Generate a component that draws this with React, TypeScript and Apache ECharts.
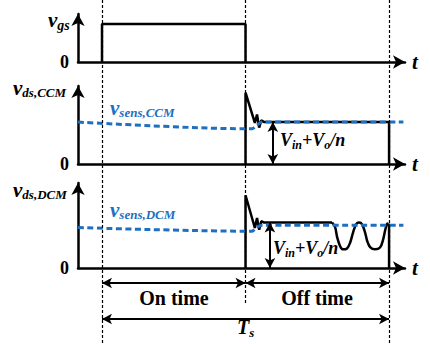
import React, { useEffect, useRef } from "react";
import * as echarts from "echarts";

// time axis, in units of the on-time (turn-on at 0, turn-off at 1, period end at 2)
const T_MIN = -0.1672;
const T_MAX = 2.111;
const SWITCH_T = [0, 1, 2];
const Y_MAX = [1.26, 1.86, 1.87];

// gate drive
const VGS = [[0, 0], [0, 1], [1, 1], [1, 0]];

// drain-source voltage, CCM
const VDS_CCM = [[1, 0], [1, 1.7], [1.065, 0.98], [1.08, 1.18], [1.095, 0.87], [1.11, 1.04], [1.13, 1.0], [2, 1.0], [2, 0]];
const VSENS_CCM = [[T_MIN, 1.0], [1.0, 0.84], [1.045, 0.84], [1.08, 0.93], [1.115, 1.0], [2.1, 1.0]];

// drain-source voltage, DCM
const VDS_DCM = [[1, 0], [1, 1.6], [1.065, 0.88], [1.08, 1.1], [1.095, 0.84], [1.11, 1.03], [1.13, 1.0], [1.603, 1.0]];
const VDS_DCM_RING = [
  [1.603, 1.0], [1.624, 0.9], [1.638, 0.68], [1.659, 0.48], [1.679, 0.41], [1.707, 0.43], [1.728, 0.55],
  [1.749, 0.78], [1.77, 0.96], [1.791, 1.0], [1.812, 0.96], [1.833, 0.78], [1.847, 0.6], [1.868, 0.46],
  [1.902, 0.41], [1.937, 0.45], [1.958, 0.62], [1.972, 0.82], [1.986, 0.97], [1.995, 0.98],
];
const VDS_DCM_END = [[1.995, 0.98], [2.0, 0.92], [2.0, 0]];
const VSENS_DCM = [[T_MIN, 0.89], [1.0, 0.81], [1.045, 0.81], [1.08, 0.9], [1.115, 0.94], [2.1, 0.94]];

// reflected-voltage arrows (time, level)
const REFLECT_ARROW_CCM = [1.19, 1.0];
const REFLECT_ARROW_DCM = [1.17, 1.0];

// labels
const SIGNAL_SUBS = ["gs", "ds,CCM", "ds,DCM"];
const SENSE_SUBS = ["sens,CCM", "sens,DCM"];
const DURATION_LABELS = ["On time", "Off time"];
const PERIOD_LABEL = ["T", "s"];
const REFLECT_LABEL: [string, boolean][] = [["V", false], ["in", true], ["+V", false], ["o", true], ["/n", false]];

const SERIF = "Liberation Serif";
const BLUE = "#1e6fc0";

let ctx: CanvasRenderingContext2D | null = null;
function measure(t: string, font: string) {
  if (!ctx) ctx = document.createElement("canvas").getContext("2d");
  ctx!.font = font;
  return ctx!.measureText(t).width;
}

function mathText(
  parts: [string, boolean][], x0: number, base: number, main: number, sub: number, drop: number,
  color: string, weight = "bold", fstyle = "italic"
) {
  const els: any[] = [];
  let x = x0;
  for (const [t, isSub] of parts) {
    const fs = isSub ? sub : main;
    const font = `${fstyle} ${weight} ${fs}px "${SERIF}"`;
    const b = isSub ? base + drop : base;
    els.push({
      type: "text", x, y: b - 0.34 * fs, z: 100,
      style: { text: t, font, fontSize: fs, fontFamily: SERIF, fontWeight: weight, fontStyle: fstyle, fill: color, align: "left", verticalAlign: "middle" },
    });
    x += measure(t, font);
  }
  return els;
}

function centered(t: string, cx: number, base: number, fs: number) {
  return {
    type: "text", x: cx, y: base - 0.34 * fs, z: 100,
    style: { text: t, font: `bold ${fs}px "${SERIF}"`, fontSize: fs, fontFamily: SERIF, fontWeight: "bold", fill: "#000", align: "center", verticalAlign: "middle" },
  };
}

const axisLine = { show: true, onZero: false, lineStyle: { color: "#000", width: 2.5 }, symbol: ["none", "arrow"], symbolSize: [10, 12] };

function xAx(i: number) {
  return {
    gridIndex: i, type: "value", min: T_MIN, max: T_MAX, axisLine, axisTick: { show: false }, axisLabel: { show: false },
    splitLine: { show: false }, name: "t", nameLocation: "end", nameGap: 7,
    nameTextStyle: { fontFamily: SERIF, fontWeight: "bold", fontStyle: "italic", fontSize: 21, color: "#000", verticalAlign: "middle" },
  };
}
function yAx(i: number) {
  return {
    gridIndex: i, type: "value", min: 0, max: Y_MAX[i], axisLine, axisTick: { show: false }, splitLine: { show: false },
    axisLabel: { formatter: (v: number) => (v === 0 ? "0" : ""), fontFamily: SERIF, fontWeight: "bold", fontSize: 18, color: "#000", margin: 9 },
  };
}

const black = (i: number, data: number[][], smooth: number | boolean = false) => ({
  type: "line", xAxisIndex: i, yAxisIndex: i, data, smooth, showSymbol: false, symbol: "none", z: 3,
  lineStyle: { color: "#000", width: 2.5 }, silent: true,
});
const blue = (i: number, data: number[][]) => ({
  type: "line", xAxisIndex: i, yAxisIndex: i, data, smooth: 0.3, showSymbol: false, symbol: "none", z: 4,
  lineStyle: { color: BLUE, width: 3, type: [6, 3.5] }, silent: true,
});
const vArrow = (i: number, a: number[]) => ({
  type: "line", xAxisIndex: i, yAxisIndex: i, data: [], z: 5, silent: true,
  markLine: {
    silent: true, symbol: ["arrow", "arrow"], symbolSize: [8, 10], label: { show: false },
    lineStyle: { color: "#000", width: 2, type: "solid" },
    data: [[{ coord: [a[0], 0] }, { coord: [a[0], a[1]] }]],
  },
});

export default function App() {
  const ref = useRef<HTMLDivElement>(null);
  useEffect(() => {
    const chart = echarts.init(ref.current!, null, { renderer: "svg" });
    const graphic: any[] = [
      ...mathText([["v", false], [SIGNAL_SUBS[0], true]], 48, 27, 21, 14, 3, "#000"),
      ...mathText([["v", false], [SIGNAL_SUBS[1], true]], 13, 95, 21, 13, 2, "#000"),
      ...mathText([["v", false], [SIGNAL_SUBS[2], true]], 13, 197, 21, 13, 2, "#000"),
      ...mathText([["v", false], [SENSE_SUBS[0], true]], 110, 115, 21, 13, 2, BLUE),
      ...mathText([["v", false], [SENSE_SUBS[1], true]], 110, 217, 21, 13, 2, BLUE),
      ...mathText(REFLECT_LABEL, 280, 146, 18, 12, 3, "#000"),
      ...mathText(REFLECT_LABEL, 273, 254, 18, 12, 3, "#000"),
      centered(DURATION_LABELS[0], 174, 305, 20),
      centered(DURATION_LABELS[1], 317, 305, 20),
      ...mathText([[PERIOD_LABEL[0], false], [PERIOD_LABEL[1], true]], 237, 334, 20, 13, 3, "#000"),
    ];
    const option: any = {
      animation: false,
      backgroundColor: "#fff",
      grid: [
        { left: 78, right: 25, top: 14, height: 48 },
        { left: 78, right: 25, top: 86, height: 78 },
        { left: 78, right: 25, top: 183, height: 85 },
        { left: 78, right: 25, top: 0, height: 344 },
      ],
      xAxis: [xAx(0), xAx(1), xAx(2), { gridIndex: 3, type: "value", min: T_MIN, max: T_MAX, show: false }],
      yAxis: [yAx(0), yAx(1), yAx(2), { gridIndex: 3, type: "value", min: 0, max: 344, inverse: true, show: false }],
      series: [
        {
          type: "line", xAxisIndex: 3, yAxisIndex: 3, data: [], z: 1, silent: true,
          markLine: {
            silent: true, symbol: "none", label: { show: false },
            lineStyle: { color: "#000", width: 1.2, type: [3, 2] },
            data: [
              [{ coord: [SWITCH_T[0], 0] }, { coord: [SWITCH_T[0], 344] }],
              [{ coord: [SWITCH_T[1], 0] }, { coord: [SWITCH_T[1], 305] }],
              [{ coord: [SWITCH_T[2], 0] }, { coord: [SWITCH_T[2], 344] }],
            ],
          },
        },
        {
          type: "line", xAxisIndex: 3, yAxisIndex: 3, data: [], z: 2, silent: true,
          markLine: {
            silent: true, symbol: ["arrow", "arrow"], symbolSize: [8, 10], label: { show: false },
            lineStyle: { color: "#000", width: 2, type: "solid" },
            data: [
              [{ coord: [SWITCH_T[0], 283] }, { coord: [SWITCH_T[1], 283] }],
              [{ coord: [SWITCH_T[1], 283] }, { coord: [SWITCH_T[2], 283] }],
              [{ coord: [SWITCH_T[0], 319] }, { coord: [SWITCH_T[2], 319] }],
            ],
          },
        },
        black(0, VGS),
        black(1, VDS_CCM),
        blue(1, VSENS_CCM),
        vArrow(1, REFLECT_ARROW_CCM),
        black(2, VDS_DCM),
        black(2, VDS_DCM_RING, 0.35),
        black(2, VDS_DCM_END),
        blue(2, VSENS_DCM),
        vArrow(2, REFLECT_ARROW_DCM),
      ],
      graphic,
    };
    chart.setOption(option);
    return () => chart.dispose();
  }, []);
  return <div ref={ref} style={{ position: "absolute", left: 0, top: 0, width: 430, height: 344 }} />;
}
